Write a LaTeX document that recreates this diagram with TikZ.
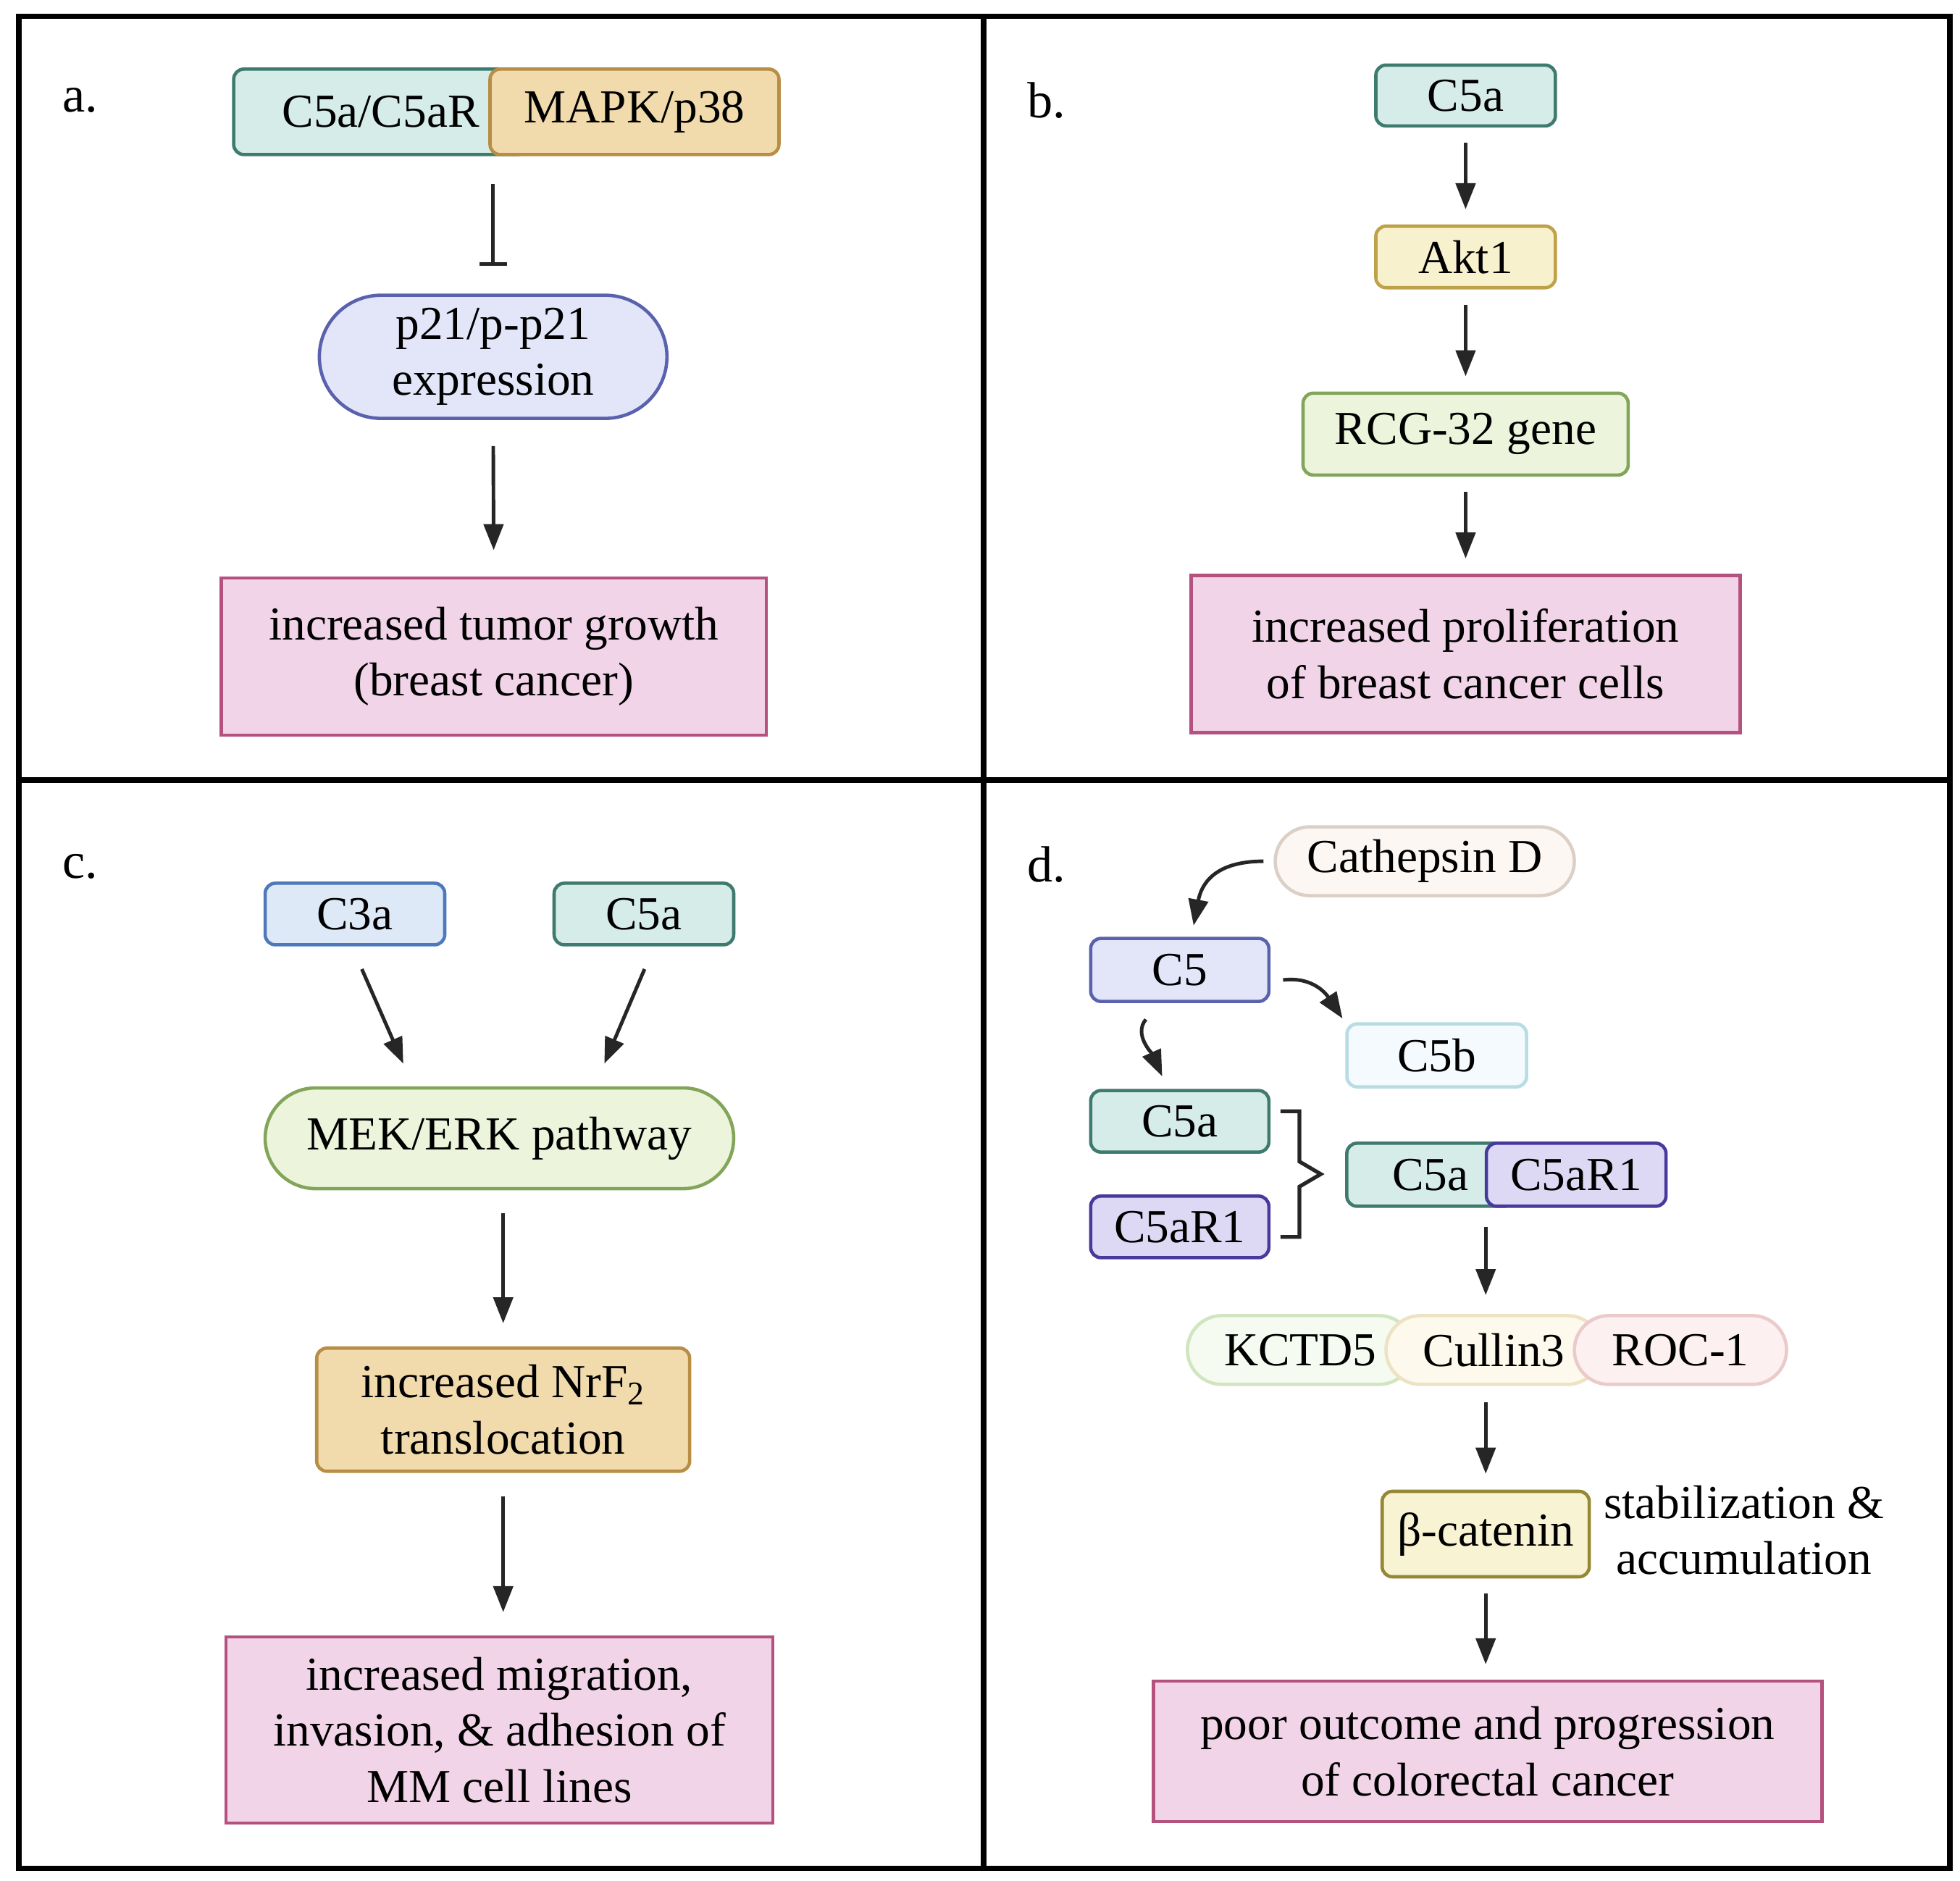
\documentclass[tikz,border=0pt]{standalone}
\usepackage{fontspec}
\setmainfont{Liberation Serif}
\usetikzlibrary{arrows.meta,shapes.misc,calc}

\definecolor{tealF}{HTML}{D5ECE8}\definecolor{tealL}{HTML}{3F7A6E}
\definecolor{tanF}{HTML}{F1DBAD}\definecolor{tanL}{HTML}{B88D45}
\definecolor{lavF}{HTML}{E2E6F8}\definecolor{lavL}{HTML}{5A62AE}
\definecolor{pinkF}{HTML}{F2D4E9}\definecolor{pinkL}{HTML}{B5517F}
\definecolor{yelF}{HTML}{F8F1CD}\definecolor{yelL}{HTML}{BFA14A}
\definecolor{bcatF}{HTML}{F8F3D3}\definecolor{bcatL}{HTML}{948834}
\definecolor{grnF}{HTML}{ECF4DC}\definecolor{grnL}{HTML}{82A55A}
\definecolor{bluF}{HTML}{DEE9F7}\definecolor{bluL}{HTML}{4D79BC}
\definecolor{purF}{HTML}{DDD9F5}\definecolor{purL}{HTML}{473A9C}
\definecolor{cfbF}{HTML}{F4FAFD}\definecolor{cfbL}{HTML}{B8DCE4}
\definecolor{cathF}{HTML}{FCF7F3}\definecolor{cathL}{HTML}{DCD0C6}
\definecolor{kctF}{HTML}{F6FBF1}\definecolor{kctL}{HTML}{D1E5C1}
\definecolor{culF}{HTML}{FDF9ED}\definecolor{culL}{HTML}{EDE2C2}
\definecolor{rocF}{HTML}{FCF0F0}\definecolor{rocL}{HTML}{EBCACA}

\begin{document}
\begin{tikzpicture}[x=0.017346cm, y=-0.017346cm, font=\fontsize{18.6}{22}\selectfont,
  box/.style={draw, rounded corners=4pt, line width=1.3pt, inner sep=0pt, align=center},
  pill/.style={draw, rounded rectangle, line width=1.3pt, inner sep=0pt, align=center},
  outcome/.style={draw=pinkL, fill=pinkF, line width=1.3pt, inner sep=0pt, align=center},
  flow/.style={-{Triangle[length=0.36cm,width=0.27cm]}, line width=1.4pt, black!85, shorten <=#1, shorten >=#1},
  flow/.default=0pt,
  panel/.style={font=\fontsize{20}{24}\selectfont}]
\fill[white] (0,0) rectangle (1560,1497);
\useasboundingbox (0,0) rectangle (1560,1497);

\node[panel] (la) at (64,80) {a.};
\node[box, fill=tealF, draw=tealL, minimum width=4.06cm, minimum height=1.18cm] (ca) at (303,89) {C5a/C5aR};
\node[box, fill=tanF, draw=tanL, minimum width=3.99cm, minimum height=1.18cm] (mapk) at (505,89) {MAPK/p38};
\node[pill, fill=lavF, draw=lavL, minimum width=4.8cm, minimum height=1.7cm] (p21) at (392.5,284) {p21/p-p21\\expression};
\node[outcome, minimum width=7.53cm, minimum height=2.17cm] (tumor) at (393,522.5) {increased tumor growth\\(breast cancer)};
\draw[-{Bar[width=0.38cm]}, line width=1.4pt, black!85, shorten <=0.38cm, shorten >=0.38cm] (p21.north |- ca.south) -- (p21.north);
\draw[flow=0.36cm] (p21.south) -- (tumor.north);

\node[panel] (lb) at (833,80) {b.};
\node[box, fill=tealF, draw=tealL, minimum width=2.48cm, minimum height=0.84cm] (bc5a) at (1166.5,76) {C5a};
\node[box, fill=yelF, draw=yelL, minimum width=2.48cm, minimum height=0.85cm] (akt) at (1166.5,204.5) {Akt1};
\node[box, fill=grnF, draw=grnL, minimum width=4.49cm, minimum height=1.13cm] (rcg) at (1166.5,345.5) {RCG-32 gene};
\node[outcome, minimum width=7.58cm, minimum height=2.17cm] (prolif) at (1166.5,520.5) {increased proliferation\\of breast cancer cells};
\draw[flow=0.21cm] (bc5a) -- (akt);
\draw[flow=0.21cm] (akt) -- (rcg);
\draw[flow=0.21cm] (rcg) -- (prolif);

\node[panel] (lc) at (64,690) {c.};
\node[box, fill=bluF, draw=bluL, minimum width=2.48cm, minimum height=0.85cm] (c3a) at (282.5,727.5) {C3a};
\node[box, fill=tealF, draw=tealL, minimum width=2.48cm, minimum height=0.85cm] (cc5a) at (512.5,727.5) {C5a};
\node[pill, fill=grnF, draw=grnL, minimum width=6.47cm, minimum height=1.39cm] (mek) at (397.5,906) {MEK/ERK pathway};
\node[box, fill=tanF, draw=tanL, minimum width=5.15cm, minimum height=1.7cm] (nrf) at (400.5,1122) {increased NrF\textsubscript{2}\\translocation};
\node[outcome, minimum width=7.55cm, minimum height=2.57cm] (migr) at (397.5,1377) {increased migration,\\invasion, \& adhesion of\\MM cell lines};
\draw[flow] ($(c3a.south)+(5.5,18)$) -- ($(mek.north)+(-76.5,-18)$);
\draw[flow] ($(cc5a.south)+(0.5,18)$) -- ($(mek.north)+(83.5,-18)$);
\draw[flow=0.32cm] (mek.south -| nrf.north) -- (nrf.north);
\draw[flow=0.32cm] (nrf.south) -- (migr.north -| nrf.south);

\node[panel] (ld) at (833,688) {d.};
\node[pill, fill=cathF, draw=cathL, minimum width=4.13cm, minimum height=0.95cm] (cath) at (1134,685.5) {Cathepsin D};
\node[box, fill=lavF, draw=lavL, minimum width=2.46cm, minimum height=0.87cm] (c5) at (939,772) {C5};
\node[box, fill=cfbF, draw=cfbL, minimum width=2.48cm, minimum height=0.87cm] (c5b) at (1143.5,840) {C5b};
\node[box, fill=tealF, draw=tealL, minimum width=2.46cm, minimum height=0.85cm] (dc5a) at (939,892.5) {C5a};
\node[box, fill=purF, draw=purL, minimum width=2.46cm, minimum height=0.85cm] (c5ar) at (939,976.5) {C5aR1};
\node[box, fill=tealF, draw=tealL, minimum width=2.31cm, minimum height=0.87cm] (xc5a) at (1138.5,935) {C5a};
\node[box, fill=purF, draw=purL, minimum width=2.48cm, minimum height=0.87cm] (xc5ar) at (1254.5,935) {C5aR1};
\node[pill, fill=kctF, draw=kctL, minimum width=3.12cm, minimum height=0.95cm] (kctd) at (1035,1074.5) {KCTD5};
\node[pill, fill=culF, draw=culL, minimum width=2.98cm, minimum height=0.95cm] (cul) at (1189,1074.5) {Cullin3};
\node[pill, fill=rocF, draw=rocL, minimum width=2.93cm, minimum height=0.95cm] (roc) at (1337.5,1074.5) {ROC-1};
\node[box, fill=bcatF, draw=bcatL, minimum width=2.86cm, minimum height=1.18cm] (bcat) at (1182.5,1221) {β-catenin};
\node[align=center] (stab) at (1388,1218) {stabilization \&\\accumulation};
\node[outcome, minimum width=9.23cm, minimum height=1.94cm] (poor) at (1184,1394) {poor outcome and progression\\of colorectal cancer};
\draw[flow] ($(cath.west)+(-8,0)$) .. controls +(-40,0) and +(6,-32) .. ($(c5.north)+(11,-9)$);
\draw[flow] ($(c5.east)+(10,8)$) .. controls +(25,-3) and +(-12,-18) .. ($(c5b.north)+(-75,-3)$);
\draw[flow] ($(c5.south)+(-27,13)$) .. controls +(-10,12) and +(-8,-18) .. ($(dc5a.north)+(-14,-10)$);
\draw[line width=1.5pt, black!85] ($(dc5a.east)+(8,-8)$) -- ++(15,0) -- ++(0,40) -- ++(17,10) -- ++(-17,10) -- ++(0,40) -- ++(-15,0);
\draw[flow=0.26cm] (bcat.north |- xc5a.south) -- (bcat.north |- cul.north);
\draw[flow=0.22cm] (bcat.north |- cul.south) -- (bcat.north);
\draw[flow=0.21cm] (bcat.south) -- (poor.north -| bcat.south);

\draw[line width=2.2pt] (15,13) rectangle (1552,1487);
\draw[line width=2.2pt] (783,13) -- (783,1487);
\draw[line width=2.2pt] (15,621) -- (1552,621);
\end{tikzpicture}
\end{document}
